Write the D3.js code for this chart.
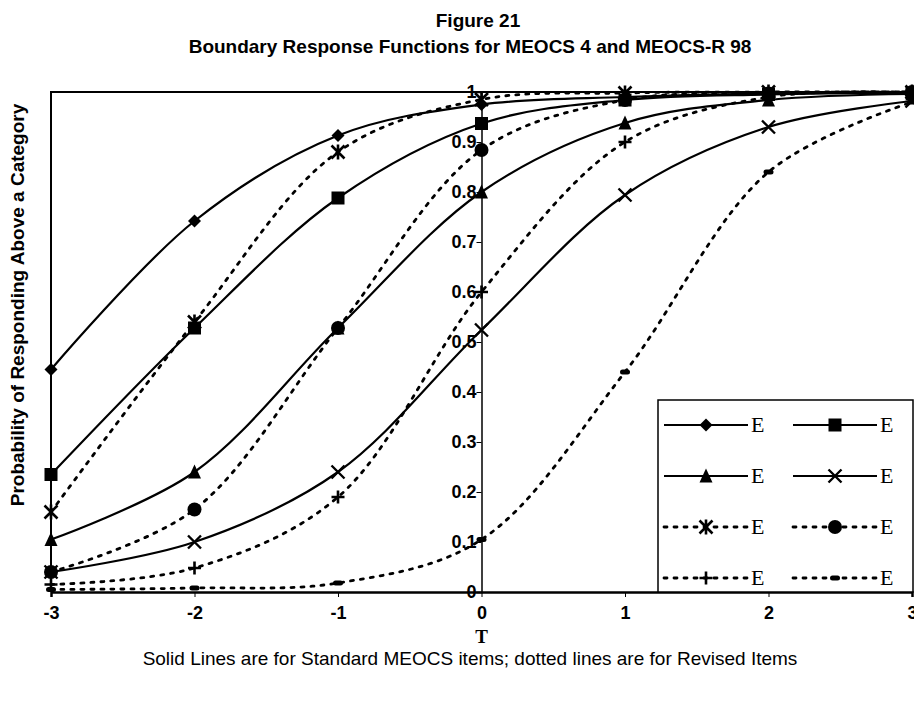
<!DOCTYPE html>
<html>
<head>
<meta charset="utf-8">
<script src="https://cdn.jsdelivr.net/npm/d3@7"></script>
<style>
  body { margin: 0; background: #fff; }
  svg text { fill: #000; }
</style>
</head>
<body>
<div id="chart"></div>
<script>
// values, theta = -3 .. 3
var thetas = [-3, -2, -1, 0, 1, 2, 3];
var xTickLabels = ["-3", "-2", "-1", "0", "1", "2", "3"];
var yTicks = [0, 0.1, 0.2, 0.3, 0.4, 0.5, 0.6, 0.7, 0.8, 0.9, 1];
var yTickLabels = ["0", "0.1", "0.2", "0.3", "0.4", "0.5", "0.6", "0.7", "0.8", "0.9", "1"];

var diamondVals  = [0.445, 0.742, 0.913, 0.975, 0.99, 0.997, 0.999];
var squareVals   = [0.235, 0.528, 0.788, 0.937, 0.984, 0.995, 0.998];
var triangleVals = [0.105, 0.24, 0.528, 0.80, 0.938, 0.984, 0.996];
var crossVals    = [0.04, 0.10, 0.24, 0.524, 0.794, 0.93, 0.982];
var starVals     = [0.16, 0.54, 0.88, 0.985, 0.998, 1.0, 1.0];
var circleVals   = [0.04, 0.165, 0.528, 0.884, 0.984, 0.997, 1.0];
var plusVals     = [0.015, 0.048, 0.19, 0.60, 0.90, 0.99, 0.999];
var dashVals     = [0.005, 0.008, 0.018, 0.105, 0.44, 0.84, 0.98];

var seriesNames  = ["E", "E", "E", "E", "E", "E", "E", "E"];

var W = 914, H = 708;
var margin = {left: 51, right: 2, top: 92, bottom: 116};

var SANS = "'Liberation Sans', Arial, sans-serif";
var SERIF = "'Liberation Serif', 'Times New Roman', serif";

var svg = d3.select("#chart").append("svg")
    .attr("width", W).attr("height", H);

var x = d3.scaleLinear().domain([-3, 3]).range([margin.left, W - margin.right]);
var y = d3.scaleLinear().domain([0, 1]).range([H - margin.bottom, margin.top]);

var series = [
  {vals: diamondVals,  marker: "diamond",  dotted: false},
  {vals: squareVals,   marker: "square",   dotted: false},
  {vals: triangleVals, marker: "triangle", dotted: false},
  {vals: crossVals,    marker: "cross",    dotted: false},
  {vals: starVals,     marker: "star",     dotted: true},
  {vals: circleVals,   marker: "circle",   dotted: true},
  {vals: plusVals,     marker: "plus",     dotted: true},
  {vals: dashVals,     marker: "dash",     dotted: true}
];

// titles
svg.append("text").attr("x", 478).attr("y", 27)
    .attr("text-anchor", "middle")
    .style("font", "bold 19px " + SANS)
    .text("Figure 21");
svg.append("text").attr("x", 470).attr("y", 53)
    .attr("text-anchor", "middle")
    .style("font", "bold 19px " + SANS)
    .text("Boundary Response Functions for MEOCS 4 and MEOCS-R 98");

// plot frame (top and left edges)
svg.append("path")
    .attr("d", "M" + x(-3) + "," + y(0) + "V" + y(1) + "H" + x(3))
    .attr("fill", "none").attr("stroke", "#000").attr("stroke-width", 2);

// x axis at y = 0
var xAxis = d3.axisBottom(x).tickValues(thetas).tickSize(5)
    .tickFormat(function (d, i) { return xTickLabels[i]; });
var gx = svg.append("g").attr("transform", "translate(0," + y(0) + ")").call(xAxis);
gx.select(".domain").attr("stroke-width", 2.5);
gx.selectAll("text")
    .attr("y", 10).attr("dy", "0.95em")
    .style("font", "bold 18px " + SANS);

// y axis crossing at theta = 0
var yAxis = d3.axisLeft(y).tickValues(yTicks).tickSize(5)
    .tickFormat(function (d, i) { return yTickLabels[i]; });
var gy = svg.append("g").attr("transform", "translate(" + x(0) + ",0)").call(yAxis);
gy.select(".domain").attr("stroke-width", 1.5);
gy.selectAll("text")
    .attr("x", -5)
    .style("font", "bold 18px " + SANS);

// axis titles
svg.append("text")
    .attr("transform", "translate(24,305) rotate(-90)")
    .attr("text-anchor", "middle")
    .style("font", "bold 19px " + SANS)
    .text("Probability of Responding Above a Category");
svg.append("text").attr("x", x(0)).attr("y", 643)
    .attr("text-anchor", "middle")
    .style("font", "bold 19px " + SERIF)
    .text("T");
svg.append("text").attr("x", 470).attr("y", 665)
    .attr("text-anchor", "middle")
    .style("font", "19px " + SANS)
    .text("Solid Lines are for Standard MEOCS items; dotted lines are for Revised Items");

// curves
var line = d3.line()
    .x(function (d, i) { return x(thetas[i]); })
    .y(function (d) { return y(d); })
    .curve(d3.curveCatmullRom.alpha(0.5));

function styleLine(sel, dotted) {
  sel.attr("fill", "none").attr("stroke", "#000")
     .attr("stroke-width", dotted ? 2.8 : 2.2)
     .attr("stroke-dasharray", dotted ? "3,7" : null)
     .attr("stroke-linecap", dotted ? "round" : "butt");
}

series.forEach(function (s) {
  svg.append("path").datum(s.vals).attr("d", line).call(styleLine, s.dotted);
});

// marker drawing
function drawMarker(g, type, cx, cy) {
  var r = 6.5;
  switch (type) {
    case "diamond":
      g.append("path").attr("d", "M" + cx + "," + (cy - r) + "L" + (cx + r) + "," + cy +
        "L" + cx + "," + (cy + r) + "L" + (cx - r) + "," + cy + "Z");
      break;
    case "square":
      g.append("rect").attr("x", cx - r).attr("y", cy - r).attr("width", 2 * r).attr("height", 2 * r);
      break;
    case "triangle":
      g.append("path").attr("d", "M" + cx + "," + (cy - r - 1) + "L" + (cx + r) + "," + (cy + r) +
        "L" + (cx - r) + "," + (cy + r) + "Z");
      break;
    case "circle":
      g.append("circle").attr("cx", cx).attr("cy", cy).attr("r", r + 0.5);
      break;
    case "cross":
      g.append("path").attr("d", "M" + (cx - r) + "," + (cy - r) + "L" + (cx + r) + "," + (cy + r) +
        "M" + (cx + r) + "," + (cy - r) + "L" + (cx - r) + "," + (cy + r))
        .attr("stroke", "#000").attr("stroke-width", 2.4).attr("fill", "none");
      break;
    case "star":
      g.append("path").attr("d", "M" + (cx - r) + "," + (cy - r) + "L" + (cx + r) + "," + (cy + r) +
        "M" + (cx + r) + "," + (cy - r) + "L" + (cx - r) + "," + (cy + r) +
        "M" + cx + "," + (cy - r - 1) + "V" + (cy + r + 1))
        .attr("stroke", "#000").attr("stroke-width", 2.6).attr("fill", "none");
      break;
    case "plus":
      g.append("path").attr("d", "M" + (cx - r) + "," + cy + "H" + (cx + r) +
        "M" + cx + "," + (cy - r) + "V" + (cy + r))
        .attr("stroke", "#000").attr("stroke-width", 2.6).attr("fill", "none");
      break;
    case "dash":
      g.append("rect").attr("x", cx - 5).attr("y", cy - 2.5).attr("width", 10).attr("height", 5)
        .attr("rx", 2.5);
      break;
  }
}

var gm = svg.append("g").attr("fill", "#000");
series.forEach(function (s) {
  s.vals.forEach(function (v, i) {
    drawMarker(gm, s.marker, x(thetas[i]), y(v));
  });
});

// legend
var lg = svg.append("g");
var lx = 658, ly = 400, lw = W - lx - 1, lh = y(0) - ly;
lg.append("rect").attr("x", lx).attr("y", ly).attr("width", lw).attr("height", lh)
    .attr("fill", "#fff").attr("stroke", "#000").attr("stroke-width", 1.5);

series.forEach(function (s, i) {
  var col = i % 2, row = Math.floor(i / 2);
  var x0 = lx + 6 + col * 129, yy = ly + 25 + row * 51;
  lg.append("path").attr("d", "M" + x0 + "," + yy + "H" + (x0 + 84)).call(styleLine, s.dotted);
  var gk = lg.append("g").attr("fill", "#000");
  drawMarker(gk, s.marker, x0 + 42, yy);
  lg.append("text").attr("x", x0 + 87).attr("y", yy + 7)
      .style("font", "22px " + SERIF)
      .text(seriesNames[i]);
});
</script>
</body>
</html>
